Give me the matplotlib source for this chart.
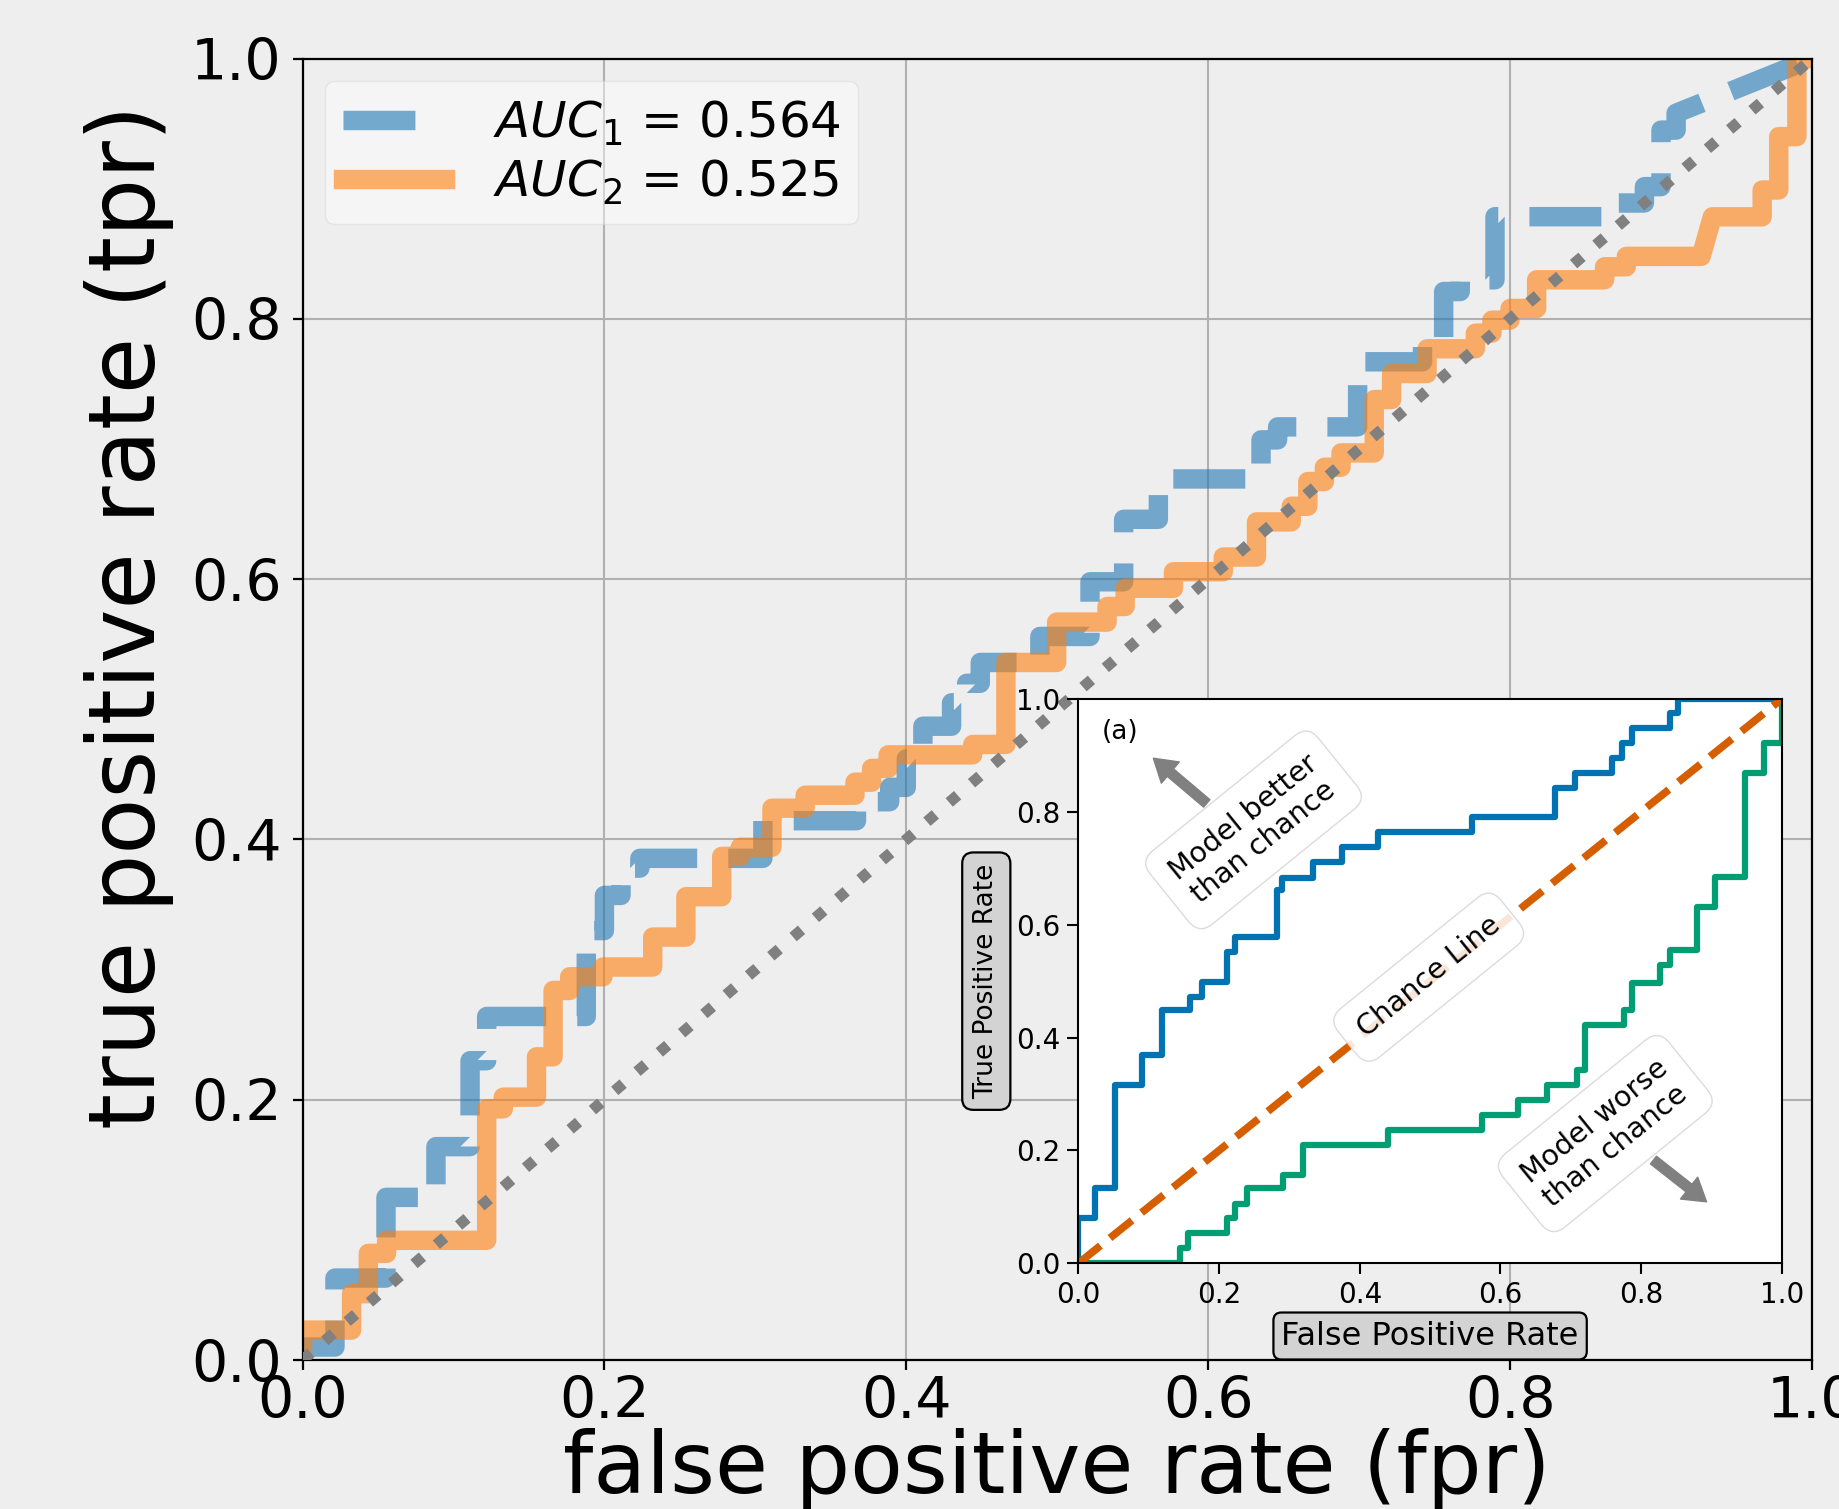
import matplotlib
matplotlib.use("Agg")
import matplotlib.pyplot as plt

# ROC corner points
fpr_1 = [0, 0, 0.0215, 0.0215, 0.0553, 0.0553, 0.0884, 0.0884, 0.111, 0.111,
         0.122, 0.122, 0.188, 0.188, 0.200, 0.200, 0.211, 0.211, 0.2235, 0.2235,
         0.305, 0.305, 0.367, 0.367, 0.389, 0.389, 0.400, 0.400, 0.411, 0.411,
         0.430, 0.430, 0.440, 0.440, 0.449, 0.449, 0.4885, 0.4885, 0.5217, 0.5217,
         0.544, 0.544, 0.567, 0.567, 0.635, 0.635, 0.646, 0.646, 0.699, 0.699,
         0.742, 0.742, 0.756, 0.756, 0.767, 0.767, 0.790, 0.790, 0.865, 0.865,
         0.889, 0.889, 0.900, 0.900, 0.910, 0.910, 1.0]
tpr_1 = [0, 0.010, 0.010, 0.063, 0.063, 0.125, 0.125, 0.164, 0.164, 0.230,
         0.230, 0.264, 0.264, 0.330, 0.330, 0.357, 0.357, 0.378, 0.378, 0.3855,
         0.3855, 0.4144, 0.4144, 0.429, 0.429, 0.440, 0.440, 0.462, 0.462, 0.487,
         0.487, 0.505, 0.505, 0.520, 0.520, 0.536, 0.536, 0.556, 0.556, 0.598,
         0.598, 0.646, 0.646, 0.677, 0.677, 0.707, 0.707, 0.717, 0.717, 0.767,
         0.767, 0.779, 0.779, 0.821, 0.821, 0.830, 0.830, 0.8785, 0.8785, 0.889,
         0.889, 0.9016, 0.9016, 0.945, 0.945, 0.958, 1.0]

fpr_2 = [0, 0, 0.0325, 0.0325, 0.0436, 0.0436, 0.0557, 0.0557, 0.122, 0.122,
         0.133, 0.133, 0.155, 0.155, 0.166, 0.166, 0.177, 0.177, 0.199, 0.199,
         0.232, 0.232, 0.254, 0.254, 0.2777, 0.2777, 0.290, 0.290, 0.311, 0.311,
         0.333, 0.333, 0.366, 0.366, 0.377, 0.377, 0.388, 0.388, 0.444, 0.444,
         0.466, 0.466, 0.4996, 0.4996, 0.533, 0.533, 0.545, 0.545, 0.577, 0.577,
         0.610, 0.610, 0.632, 0.632, 0.655, 0.655, 0.666, 0.666, 0.677, 0.677,
         0.688, 0.688, 0.710, 0.710, 0.7215, 0.7215, 0.745, 0.745, 0.777, 0.777,
         0.788, 0.788, 0.800, 0.800, 0.8176, 0.8176, 0.8626, 0.8626, 0.877, 0.877,
         0.9266, 0.934, 0.967, 0.967, 0.978, 0.978, 0.990, 0.990, 1.0]
tpr_2 = [0, 0.023, 0.023, 0.051, 0.051, 0.082, 0.082, 0.092, 0.092, 0.193,
         0.193, 0.202, 0.202, 0.233, 0.233, 0.284, 0.284, 0.2945, 0.2945, 0.302,
         0.302, 0.325, 0.325, 0.356, 0.356, 0.387, 0.387, 0.394, 0.394, 0.424,
         0.424, 0.434, 0.434, 0.444, 0.444, 0.4546, 0.4546, 0.465, 0.465, 0.473,
         0.473, 0.536, 0.536, 0.567, 0.567, 0.579, 0.579, 0.593, 0.593, 0.6057,
         0.6057, 0.617, 0.617, 0.644, 0.644, 0.656, 0.656, 0.675, 0.675, 0.686,
         0.686, 0.697, 0.697, 0.738, 0.738, 0.758, 0.758, 0.777, 0.777, 0.789,
         0.789, 0.799, 0.799, 0.808, 0.808, 0.830, 0.830, 0.840, 0.840, 0.848,
         0.848, 0.8784, 0.8784, 0.899, 0.899, 0.940, 0.940, 1.0, 1.0]

auc_labels = [r"$AUC_1$ = 0.564", r"$AUC_2$ = 0.525"]

# inset (a): a good model, a bad model and the chance line
inset_fpr_good = [0, 0, 0.0237, 0.0237, 0.052, 0.052, 0.090, 0.090, 0.1185, 0.1185,
                  0.1588, 0.1588, 0.1754, 0.1754, 0.211, 0.211, 0.2228, 0.2228,
                  0.282, 0.282, 0.289, 0.289, 0.334, 0.334, 0.3745, 0.3745,
                  0.4265, 0.4265, 0.559, 0.559, 0.6777, 0.6777, 0.706, 0.706,
                  0.7583, 0.7583, 0.7725, 0.7725, 0.7867, 0.7867, 0.841, 0.841,
                  0.853, 0.853, 1.0]
inset_tpr_good = [0, 0.080, 0.080, 0.133, 0.133, 0.316, 0.316, 0.369, 0.369, 0.449,
                  0.449, 0.4725, 0.4725, 0.499, 0.499, 0.552, 0.552, 0.579,
                  0.579, 0.6615, 0.6615, 0.682, 0.682, 0.7117, 0.7117, 0.738,
                  0.738, 0.765, 0.765, 0.7915, 0.7915, 0.8417, 0.8417, 0.8694,
                  0.8694, 0.895, 0.895, 0.9215, 0.9215, 0.948, 0.948, 0.9747,
                  0.9747, 1.0, 1.0]
inset_fpr_bad = [0, 0.1446, 0.1446, 0.1564, 0.1564, 0.211, 0.211, 0.2228, 0.2228,
                 0.2394, 0.2394, 0.2915, 0.2915, 0.32, 0.32, 0.4407, 0.4407,
                 0.5735, 0.5735, 0.6255, 0.6255, 0.666, 0.666, 0.7086, 0.7086,
                 0.7204, 0.7204, 0.775, 0.775, 0.7867, 0.7867, 0.827, 0.827,
                 0.841, 0.841, 0.879, 0.879, 0.905, 0.905, 0.948, 0.948, 0.974,
                 0.974, 1.0, 1.0]
inset_tpr_bad = [0, 0, 0.0266, 0.0266, 0.053, 0.053, 0.0797, 0.0797, 0.106,
                 0.106, 0.133, 0.133, 0.1565, 0.1565, 0.2096, 0.2096, 0.236,
                 0.236, 0.263, 0.263, 0.2894, 0.2894, 0.316, 0.316, 0.3426,
                 0.3426, 0.4223, 0.4223, 0.449, 0.449, 0.496, 0.496, 0.5286,
                 0.5286, 0.555, 0.555, 0.632, 0.632, 0.685, 0.685, 0.868, 0.868,
                 0.9215, 0.9215, 1.0]
ticks = [0.0, 0.2, 0.4, 0.6, 0.8, 1.0]

BG = "#eeeeee"
fig = plt.figure(figsize=(18.39, 15.09), dpi=100, facecolor=BG)

# main axes
ax = fig.add_axes([0.1645, 0.0987, 0.8208, 0.8625])
ax.set_facecolor(BG)
ax.plot(fpr_1, tpr_1, "--", color="tab:blue", alpha=0.6, lw=14, label=auc_labels[0])
ax.plot(fpr_2, tpr_2, "-", color="tab:orange", alpha=0.6, lw=14, label=auc_labels[1])
ax.plot([0, 1], [0, 1], ":", color="grey", lw=8, zorder=3)
ax.set_xlim(0, 1)
ax.set_ylim(0, 1)
ax.set_xticks(ticks)
ax.set_yticks(ticks)
ax.grid(True, color="#b0b0b0", lw=1.5)
ax.set_axisbelow(True)
for s in ax.spines.values():
    s.set_linewidth(1.6)
ax.tick_params(labelsize=41, length=7, width=1.6)
ax.tick_params(axis="x", pad=4)
ax.tick_params(axis="y", pad=8)
ax.set_xlabel("false positive rate (fpr)", fontsize=62, labelpad=-2)
ax.set_ylabel("true positive rate (tpr)", fontsize=66)
ax.yaxis.set_label_coords(-0.085, 0.571)
leg = ax.legend(loc="upper left", fontsize=36, handlelength=2.05,
                handletextpad=0.95, labelspacing=0.2, borderpad=0.35,
                borderaxespad=0.45, framealpha=0.45, edgecolor="#d6d6d6")

# inset
axin = fig.add_axes([0.5864, 0.1628, 0.3825, 0.374])
axin.set_facecolor("white")
axin.plot(inset_fpr_good, inset_tpr_good, color="#0173b2", lw=4.5)
axin.plot(inset_fpr_bad, inset_tpr_bad, color="#029e73", lw=4.5)
axin.plot([0, 1], [0, 1], "--", color="#d55e00", lw=5.5)
axin.set_xlim(0, 1)
axin.set_ylim(0, 1)
axin.set_xticks(ticks)
axin.set_yticks(ticks)
for s in axin.spines.values():
    s.set_linewidth(1.5)
axin.tick_params(labelsize=20, length=8, width=1.5, pad=5)
axin.set_xlabel("False Positive Rate", fontsize=23, labelpad=8,
                bbox=dict(boxstyle="round,pad=0.25", fc="lightgrey", ec="black", lw=1.6))
axin.set_ylabel("True Positive Rate", fontsize=19, labelpad=12,
                bbox=dict(boxstyle="round,pad=0.42", fc="lightgrey", ec="black", lw=1.6))
axin.text(0.033, 0.942, "(a)", fontsize=19, ha="left", va="center",
          transform=axin.transAxes)

note_box = dict(boxstyle="round,pad=0.6", fc="white", ec="#d5d5d5", alpha=0.85)
axin.text(0.249, 0.768, "Model better\nthan chance", fontsize=20.5, rotation=39,
          rotation_mode="anchor", ha="center", va="center", bbox=note_box)
axin.text(0.498, 0.507, "Chance Line", fontsize=20.5, rotation=39,
          rotation_mode="anchor", ha="center", va="center", bbox=note_box)
axin.text(0.749, 0.230, "Model worse\nthan chance", fontsize=20.5, rotation=39,
          rotation_mode="anchor", ha="center", va="center", bbox=note_box)
arrow = dict(facecolor="grey", edgecolor="grey", width=7, headwidth=20,
             headlength=16, shrink=0)
axin.annotate("", xy=(0.1066, 0.895), xytext=(0.1825, 0.815), arrowprops=arrow)
axin.annotate("", xy=(0.893, 0.109), xytext=(0.8175, 0.183), arrowprops=arrow)

fig.savefig("out.png", dpi=100, facecolor=BG)
